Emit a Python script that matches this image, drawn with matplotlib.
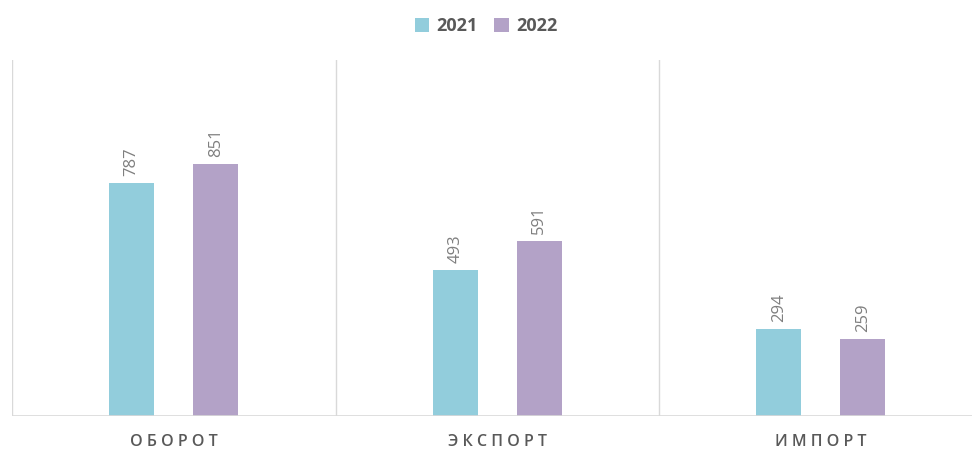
import numpy as np
import matplotlib.pyplot as plt

categories = ["ОБОРОТ", "ЭКСПОРТ", "ИМПОРТ"]
years = ["2021", "2022"]
values_2021 = [787, 493, 294]
values_2022 = [851, 591, 259]

colors = ["#92CDDC", "#B3A2C7"]
grid_color = "#D9D9D9"
text_color = "#595959"

plt.rcParams['font.family'] = ['Open Sans', 'DejaVu Sans']

fig = plt.figure(figsize=(9.72, 4.51), dpi=100)
ax = fig.add_axes([12 / 972, 1 - 416 / 451, 970.5 / 972, 356 / 451])

x = np.arange(len(categories))
w = 0.139
off = 0.13
b1 = ax.bar(x - off, values_2021, w, color=colors[0], label=years[0])
b2 = ax.bar(x + off, values_2022, w, color=colors[1], label=years[1])

for bars in (b1, b2):
    for r in bars:
        ax.annotate(f"{r.get_height():.0f}", (r.get_x() + r.get_width() / 2, r.get_height()),
                    xytext=(0, 5), textcoords="offset points", rotation=90,
                    ha="center", va="bottom", fontsize=12, color="#7F7F7F")

ax.set_xlim(-0.5, len(categories) - 0.5)
ax.set_ylim(0, 1200)
for b in np.arange(-0.5, len(categories), 1):
    ax.axvline(b, color=grid_color, lw=1, zorder=0)
for s in ax.spines.values():
    s.set_visible(False)
ax.axhline(0, color=grid_color, lw=1.2, zorder=3)
ax.set_yticks([])
ax.set_xticks(x)
ax.set_xticklabels([" ".join(c) for c in categories], fontsize=11.5, color=text_color,
                   fontweight="semibold")
ax.tick_params(axis="x", length=0, pad=13)

fig.legend(loc="center", bbox_to_anchor=(0.5, 1 - 26 / 451), ncol=2, frameon=False,
           handlelength=0.8, handleheight=0.8, handletextpad=0.4, columnspacing=0.9,
           prop={"size": 13, "weight": "bold"}, labelcolor=text_color)

fig.savefig("out.png", dpi=100)
